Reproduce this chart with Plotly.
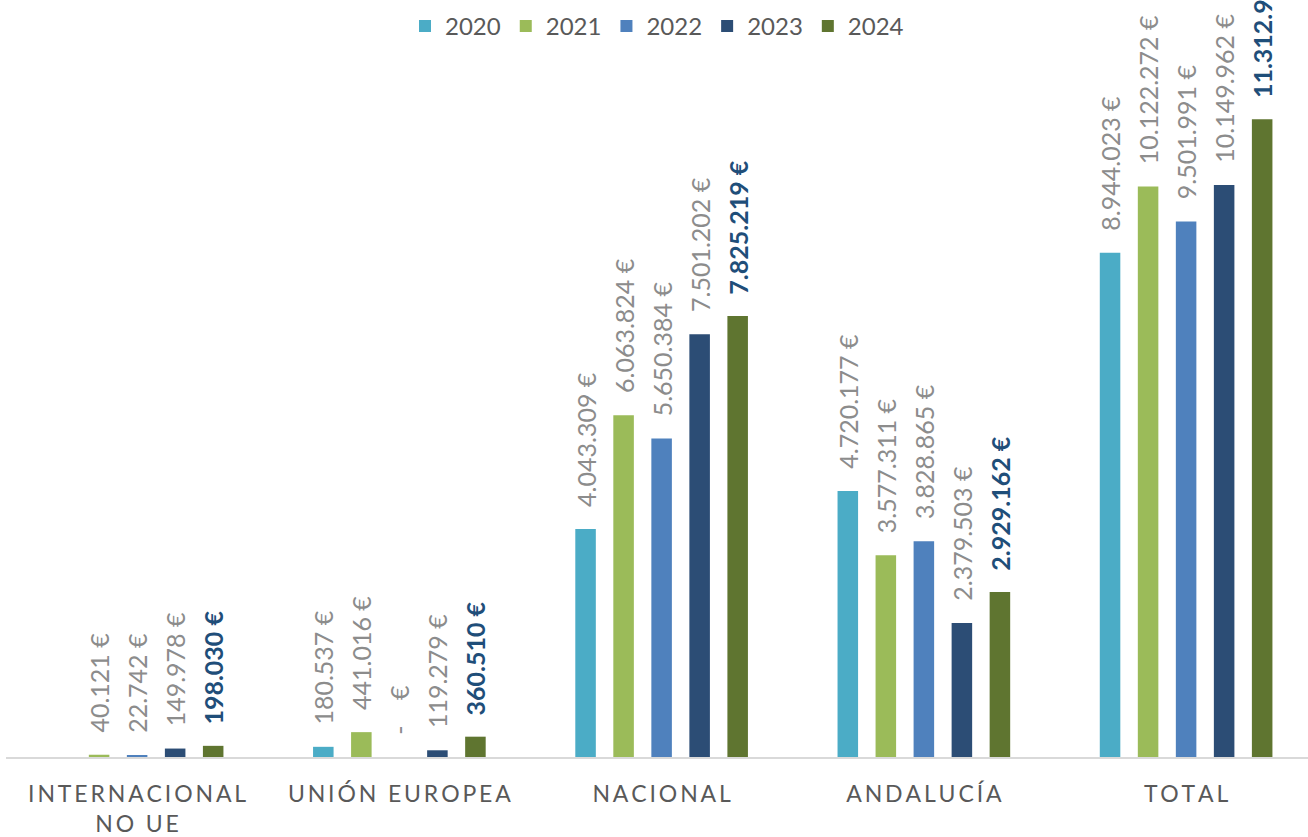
import plotly.graph_objects as go

categories = ["INTERNACIONAL<br>NO UE", "UNIÓN EUROPEA", "NACIONAL", "ANDALUCÍA", "TOTAL"]
years = ["2020", "2021", "2022", "2023", "2024"]
v2020 = [None, 180537, 4043309, 4720177, 8944023]
v2021 = [40121, 441016, 6063824, 3577311, 10122272]
v2022 = [22742, 0, 5650384, 3828865, 9501991]
v2023 = [149978, 119279, 7501202, 2379503, 10149962]
v2024 = [198030, 360510, 7825219, 2929162, 11312921]
series = [v2020, v2021, v2022, v2023, v2024]
colors = ["#4BACC6", "#9BBB59", "#4F81BD", "#2C4D75", "#5F7530"]

def spaced(s):
    parts = s.split("<br>")
    return "<br>".join("\u2009".join(list(p)) for p in parts)

def fmt(v):
    if v is None:
        return ""
    if v == 0:
        return "\u00a0\u00a0\u00a0-\u00a0\u00a0\u00a0\u00a0€"
    return "\u00a0\u00a0\u00a0" + f"{v:,}".replace(",", ".") + " €"

FONT = "Lato, 'Open Sans', sans-serif"
fig = go.Figure()
for i, (yr, vals, col) in enumerate(zip(years, series, colors)):
    last = i == 4
    fig.add_trace(go.Bar(
        name=yr, x=list(range(len(categories))), y=vals,
        marker=dict(color=col, line=dict(width=0)),
        text=[fmt(v) for v in vals],
        textposition="outside", textangle=-90, constraintext="none",
        cliponaxis=True,
        textfont=dict(family=FONT, size=25,
                      color="#1F4E79" if last else "#8C8C8C",
                      weight="bold" if last else "normal"),
        hoverinfo="skip",
    ))

fig.update_layout(
    width=1308, height=837,
    margin=dict(l=6, r=0, t=0, b=80),
    paper_bgcolor="white", plot_bgcolor="white",
    barmode="group", bargap=0.275, bargroupgap=0.46,
    showlegend=True,
    legend=dict(orientation="h", x=0.5, xanchor="center", y=0.995, yanchor="top",
                font=dict(family=FONT, size=24, color="#595959"),
                itemwidth=30, tracegroupgap=0, bgcolor="rgba(0,0,0,0)"),
    font=dict(family=FONT, color="#595959"),
)
fig.update_xaxes(
    tickvals=list(range(len(categories))),
    ticktext=[spaced(c) for c in categories],
    range=[-0.5, 4.4648],
    showline=True, linecolor="#D9D9D9", linewidth=2,
    showgrid=False, zeroline=False, ticks="",
    tickfont=dict(family=FONT, size=23, color="#595959"),
    ticklabelstandoff=15, automargin=False,
)
fig.update_yaxes(range=[0, 13430000], visible=False, showgrid=False, zeroline=False,
                 automargin=False)

fig.write_html("out.html", config={"displayModeBar": False},
               post_script="document.body.style.margin='0';")
